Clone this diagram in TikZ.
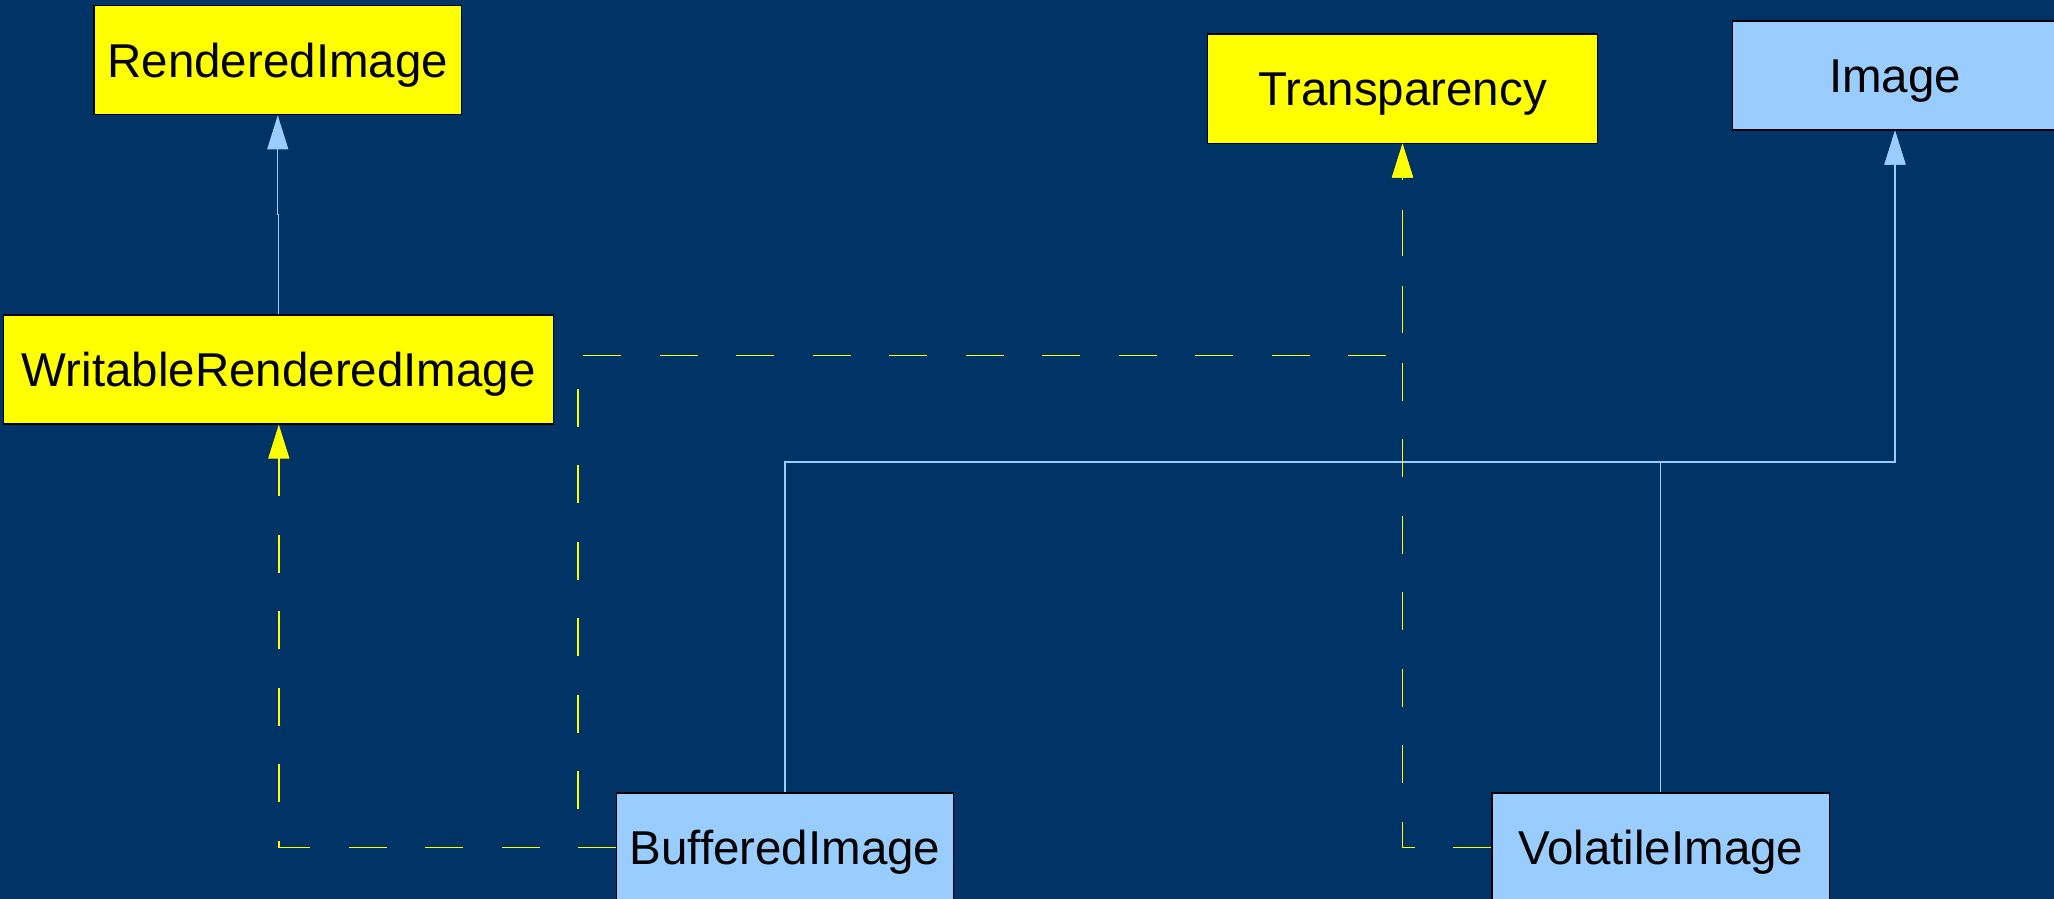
\documentclass[tikz,border=0pt]{standalone}
\usepackage{fontspec}
\setmainfont{Liberation Sans}
\usetikzlibrary{arrows.meta}
\definecolor{bgblue}{RGB}{0,51,102}
\definecolor{ifaceyellow}{RGB}{255,255,0}
\definecolor{classblue}{RGB}{153,204,255}

\begin{document}
\begin{tikzpicture}[x=1pt,y=-1pt,
  box/.style={draw=black, line width=1.2pt, inner sep=0pt, minimum height=109pt,
    text height=34pt, text depth=0pt, font=\fontsize{47.5}{57}\selectfont},
  iface/.style={box, fill=ifaceyellow},
  cls/.style={box, fill=classblue},
  realize/.style={draw=ifaceyellow, line width=1.5pt, dash pattern=on 38pt off 38.5pt,
    -{Triangle[length=34pt,width=21pt]}},
  extend/.style={draw=classblue, line width=1.2pt,
    -{Triangle[length=34pt,width=21pt]}}
]
% canvas
\fill[bgblue] (0,0) rectangle (2054,899);
\useasboundingbox (0,0) rectangle (2054,899);

% interfaces and classes
\node[iface, minimum width=367.5pt] (rend)   at (277.75,60.2)  {RenderedImage};
\node[iface, minimum width=550pt]   (wri)    at (278.8,369.5)  {WritableRenderedImage};
\node[iface, minimum width=389.7pt] (transp) at (1402.5,88.6)  {Transparency};
\node[cls,   minimum width=325.4pt] (img)    at (1895,75.5)    {Image};
\node[cls,   minimum width=336.7pt] (buf)    at (785,847.5)    {BufferedImage};
\node[cls,   minimum width=337.5pt] (vol)    at (1660.75,847.5) {VolatileImage};

% routing levels
\coordinate (busY)  at (1000,462);
\coordinate (realY) at (1000,355.3);

% generalisation
\draw[extend] (wri.north) -- ++(0,-100) -| (rend.south);
\draw[extend] (buf.north) -- (buf.north |- busY) -| (img.south);
\draw[extend] (vol.north) -- (vol.north |- busY) -| (img.south);

% realisation
\draw[realize] (buf.west) -| (wri.south);
\draw[realize] (buf.west) -- ++(-38,0) |- (realY -| transp.south) -- (transp.south);
\draw[realize] (vol.west) -| (transp.south);
\end{tikzpicture}
\end{document}
